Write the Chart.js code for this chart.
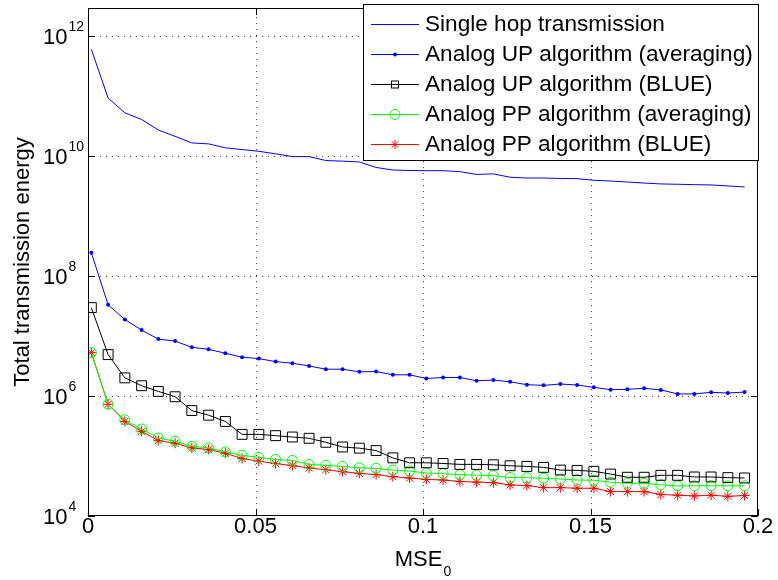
<!DOCTYPE html>
<html>
<head>
<meta charset="utf-8">
<script src="https://cdn.jsdelivr.net/npm/chart.js@4/dist/chart.umd.min.js"></script>
<style>html,body{margin:0;padding:0;background:#fff}</style>
</head>
<body>
<canvas id="chart" width="778" height="580"></canvas>
<script>
// MSE_0 sample points
const mse = [0.001, 0.006, 0.011, 0.016, 0.021, 0.026, 0.031, 0.036, 0.041, 0.046,
             0.051, 0.056, 0.061, 0.066, 0.071, 0.076, 0.081, 0.086, 0.091, 0.096,
             0.101, 0.106, 0.111, 0.116, 0.121, 0.126, 0.131, 0.136, 0.141, 0.146,
             0.151, 0.156, 0.161, 0.166, 0.171, 0.176, 0.181, 0.186, 0.191, 0.196];

const singleHop = [5.94e11, 9.2e10, 5.2e10, 4.03e10, 2.69e10, 2.11e10, 1.64e10, 1.58e10, 1.36e10, 1.27e10,
                   1.19e10, 1.08e10, 9.7e9, 9.7e9, 8.35e9, 8.15e9, 7.9e9, 6.4e9, 5.8e9, 5.7e9,
                   5.65e9, 5.65e9, 5.45e9, 4.9e9, 5.0e9, 4.4e9, 4.27e9, 4.27e9, 4.2e9, 4.17e9,
                   3.91e9, 3.8e9, 3.66e9, 3.52e9, 3.4e9, 3.36e9, 3.31e9, 3.27e9, 3.15e9, 3.03e9];

const upAveraging = [2.43e8, 3.3e7, 1.88e7, 1.25e7, 8.85e6, 8.2e6, 6.46e6, 5.98e6, 5.14e6, 4.42e6,
                     4.19e6, 3.73e6, 3.51e6, 3.16e6, 2.79e6, 2.79e6, 2.52e6, 2.55e6, 2.25e6, 2.25e6,
                     1.95e6, 2.03e6, 2.03e6, 1.79e6, 1.84e6, 1.72e6, 1.54e6, 1.5e6, 1.58e6, 1.52e6,
                     1.39e6, 1.27e6, 1.29e6, 1.34e6, 1.26e6, 1.08e6, 1.08e6, 1.15e6, 1.12e6, 1.16e6];

const upBlue = [2.96e7, 4.88e6, 2.0e6, 1.48e6, 1.19e6, 9.7e5, 5.7e5, 4.78e5, 3.76e5, 2.29e5,
                2.29e5, 2.18e5, 2.07e5, 1.97e5, 1.69e5, 1.41e5, 1.35e5, 1.23e5, 9.3e4, 7.7e4,
                7.7e4, 7.5e4, 7.24e4, 7.24e4, 7.13e4, 6.87e4, 6.7e4, 6.46e4, 5.82e4, 5.75e4,
                5.55e4, 5.0e4, 4.42e4, 4.42e4, 4.76e4, 4.76e4, 4.47e4, 4.47e4, 4.36e4, 4.3e4];

const ppAveraging = [5.26e6, 7.26e5, 4.01e5, 2.81e5, 1.99e5, 1.76e5, 1.45e5, 1.36e5, 1.17e5, 1.02e5,
                     9.5e4, 8.75e4, 8.43e4, 7.24e4, 6.97e4, 6.7e4, 6.35e4, 6.21e4, 5.82e4, 5.61e4,
                     5.2e4, 5.07e4, 4.88e4, 4.79e4, 4.7e4, 4.37e4, 4.35e4, 4.25e4, 4.12e4, 3.98e4,
                     3.94e4, 3.65e4, 3.52e4, 3.5e4, 3.3e4, 3.18e4, 3.18e4, 3.2e4, 3.18e4, 3.18e4];

const ppBlue = [5.26e6, 7.26e5, 3.76e5, 2.57e5, 1.8e5, 1.63e5, 1.36e5, 1.28e5, 1.11e5, 9.08e4,
                8.2e4, 7.46e4, 6.92e4, 6.31e4, 5.9e4, 5.47e4, 5.13e4, 4.9e4, 4.52e4, 4.29e4,
                4.07e4, 3.98e4, 3.76e4, 3.67e4, 3.6e4, 3.29e4, 3.21e4, 2.97e4, 2.97e4, 2.9e4,
                2.9e4, 2.55e4, 2.55e4, 2.55e4, 2.28e4, 2.22e4, 2.16e4, 2.22e4, 2.13e4, 2.19e4];

const seriesLabels = ['Single hop transmission', 'Analog UP algorithm (averaging)', 'Analog UP algorithm (BLUE)',
                      'Analog PP algorithm (averaging)', 'Analog PP algorithm (BLUE)'];

const xTicks = [0, 0.05, 0.1, 0.15, 0.2];
const xTickLabels = ['0', '0.05', '0.1', '0.15', '0.2'];
const yTicks = [1e4, 1e6, 1e8, 1e10, 1e12];
const yTickExps = ['4', '6', '8', '10', '12'];

const FONT = '"Liberation Sans", Arial, Helvetica, sans-serif';

function pts(vals) {
    return vals.map((v, i) => ({x: mse[i], y: v}));
}

// marker used in the legend (smaller than the plot markers, like matlab)
function legendMarker(ctx, style, x, y, color) {
    ctx.save();
    ctx.strokeStyle = color;
    ctx.fillStyle = color;
    ctx.lineWidth = 1;
    ctx.beginPath();
    if (style === 'dot') {
        ctx.arc(x, y, 2, 0, Math.PI * 2);
        ctx.fill();
    } else if (style === 'rect') {
        ctx.strokeRect(x - 3.5, y - 3.5, 7, 7);
    } else if (style === 'circle') {
        ctx.arc(x, y, 5, 0, Math.PI * 2);
        ctx.stroke();
    } else if (style === 'star') {
        const r = 4.5;
        for (let a = 0; a < 4; a++) {
            const t = a * Math.PI / 4;
            ctx.moveTo(x - r * Math.cos(t), y - r * Math.sin(t));
            ctx.lineTo(x + r * Math.cos(t), y + r * Math.sin(t));
        }
        ctx.stroke();
    }
    ctx.restore();
}

const legendStyles = ['none', 'dot', 'rect', 'circle', 'star'];

const matlabAxes = {
    id: 'matlabAxes',
    beforeDatasetsDraw(chart) {
        const {ctx, chartArea: a, scales: {x, y}} = chart;
        ctx.save();
        ctx.strokeStyle = '#444';
        ctx.lineWidth = 1;
        ctx.setLineDash([1, 5]);
        xTicks.slice(1, -1).forEach(v => {
            const px = Math.round(x.getPixelForValue(v)) + 0.5;
            ctx.beginPath(); ctx.moveTo(px, a.bottom); ctx.lineTo(px, a.top); ctx.stroke();
        });
        yTicks.forEach(v => {
            const py = Math.round(y.getPixelForValue(v)) + 0.5;
            if (py > a.bottom - 2) return;
            ctx.beginPath(); ctx.moveTo(a.left, py); ctx.lineTo(a.right, py); ctx.stroke();
        });
        ctx.restore();
    },
    afterDatasetsDraw(chart) {
        const {ctx, chartArea: a, scales: {x, y}} = chart;
        ctx.save();
        // box + inward ticks
        ctx.strokeStyle = '#000';
        ctx.lineWidth = 1;
        ctx.strokeRect(a.left + 0.5, a.top + 0.5, a.right - a.left - 1, a.bottom - a.top - 1);
        ctx.beginPath();
        xTicks.forEach(v => {
            const px = Math.round(x.getPixelForValue(v)) + 0.5;
            ctx.moveTo(px, a.bottom); ctx.lineTo(px, a.bottom - 7);
            ctx.moveTo(px, a.top); ctx.lineTo(px, a.top + 7);
        });
        yTicks.forEach(v => {
            const py = Math.round(y.getPixelForValue(v)) + 0.5;
            ctx.moveTo(a.left, py); ctx.lineTo(a.left + 7, py);
            ctx.moveTo(a.right, py); ctx.lineTo(a.right - 7, py);
        });
        ctx.stroke();

        // tick labels
        ctx.fillStyle = '#000';
        ctx.font = '22px ' + FONT;
        ctx.textAlign = 'center';
        ctx.textBaseline = 'alphabetic';
        xTicks.forEach((v, i) => ctx.fillText(xTickLabels[i], x.getPixelForValue(v), 533));
        yTicks.forEach((v, i) => {
            const py = y.getPixelForValue(v);
            ctx.textAlign = 'left';
            ctx.font = '22px ' + FONT;
            ctx.fillText('10', 43, py + 8);
            const w = ctx.measureText('10').width;
            ctx.font = '14px ' + FONT;
            ctx.fillText(yTickExps[i], 43 + w + 1, py - 5);
        });

        // axis titles
        ctx.font = '22px ' + FONT;
        ctx.textAlign = 'left';
        const wm = ctx.measureText('MSE').width;
        ctx.font = '14px ' + FONT;
        const w0 = ctx.measureText('0').width;
        const cx = (a.left + a.right) / 2;
        const sx = cx - (wm + w0 + 1) / 2;
        ctx.font = '22px ' + FONT;
        ctx.fillText('MSE', sx, 566);
        ctx.font = '14px ' + FONT;
        ctx.fillText('0', sx + wm + 1, 576);

        ctx.save();
        ctx.translate(29, (a.top + a.bottom) / 2);
        ctx.rotate(-Math.PI / 2);
        ctx.font = '22px ' + FONT;
        ctx.textAlign = 'center';
        ctx.fillText('Total transmission energy', 0, 0);
        ctx.restore();

        // legend box
        const lx = 363, ly = 4, lw = 396, lh = 157;
        ctx.fillStyle = '#fff';
        ctx.fillRect(lx, ly, lw, lh);
        ctx.strokeStyle = '#000';
        ctx.strokeRect(lx + 0.5, ly + 0.5, lw - 1, lh - 1);
        chart.data.datasets.forEach((ds, i) => {
            const ry = 24 + i * 30;
            ctx.strokeStyle = ds.borderColor;
            ctx.lineWidth = 1;
            ctx.beginPath();
            ctx.moveTo(371, ry + 0.5); ctx.lineTo(419, ry + 0.5);
            ctx.stroke();
            legendMarker(ctx, legendStyles[i], 395, ry + 0.5, ds.borderColor);
            ctx.fillStyle = '#000';
            ctx.font = '22.6px ' + FONT;
            ctx.textAlign = 'left';
            ctx.textBaseline = 'middle';
            ctx.fillText(ds.label, 425, ry + 1);
        });
        ctx.restore();
    }
};

new Chart(document.getElementById('chart'), {
    type: 'line',
    data: {
        datasets: [
            {label: seriesLabels[0], data: pts(singleHop), borderColor: '#0000ff', borderWidth: 1,
             pointRadius: 0},
            {label: seriesLabels[1], data: pts(upAveraging), borderColor: '#0000ff', backgroundColor: '#0000ff',
             borderWidth: 1, pointStyle: 'circle', pointRadius: 2, pointBorderWidth: 0},
            {label: seriesLabels[2], data: pts(upBlue), borderColor: '#000000', backgroundColor: 'rgba(0,0,0,0)',
             borderWidth: 1, pointStyle: 'rect', pointRadius: 7, pointBorderWidth: 1},
            {label: seriesLabels[3], data: pts(ppAveraging), borderColor: '#00ff00', backgroundColor: 'rgba(0,0,0,0)',
             borderWidth: 1, pointStyle: 'circle', pointRadius: 5, pointBorderWidth: 1},
            {label: seriesLabels[4], data: pts(ppBlue), borderColor: '#ff0000', backgroundColor: '#ff0000',
             borderWidth: 1, pointStyle: 'star', pointRadius: 5, pointBorderWidth: 1}
        ]
    },
    options: {
        responsive: false,
        animation: false,
        devicePixelRatio: 1,
        layout: {padding: {left: 88, top: 4, right: 20, bottom: 64}},
        elements: {line: {tension: 0, fill: false}},
        scales: {
            x: {type: 'linear', min: 0, max: 0.2, display: false},
            y: {type: 'logarithmic', min: 1e4, max: 2.9e12, display: false}
        },
        plugins: {
            legend: {display: false},
            tooltip: {enabled: false}
        }
    },
    plugins: [matlabAxes]
});
</script>
</body>
</html>
